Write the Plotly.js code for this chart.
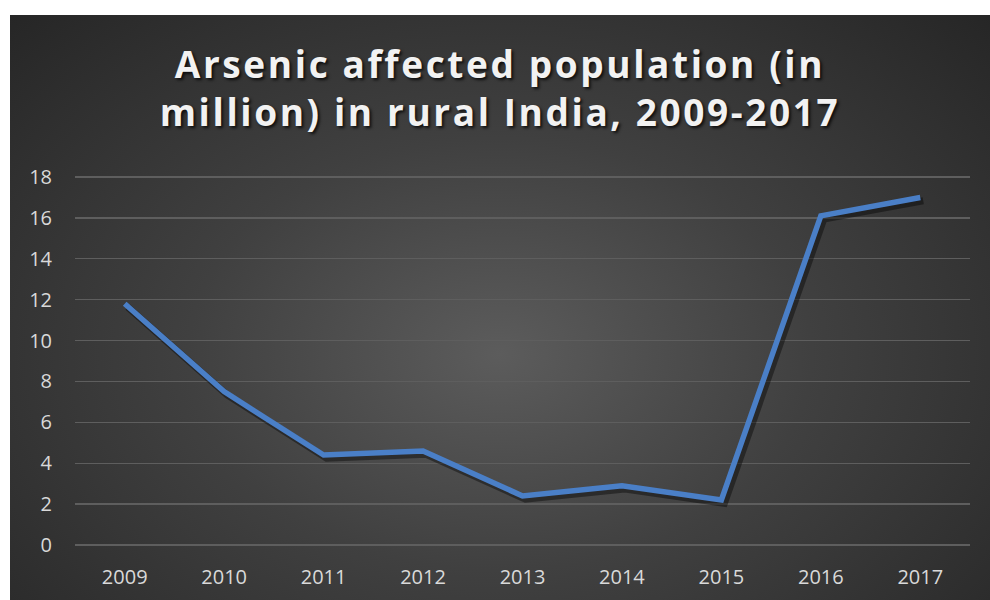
<!DOCTYPE html>
<html>
<head>
<meta charset="utf-8">
<script src="https://cdn.plot.ly/plotly-3.0.1.min.js"></script>
<style>
  html, body { margin: 0; padding: 0; background: #ffffff; width: 990px; height: 600px; overflow: hidden; }
  #chart {
    position: absolute; left: 10px; top: 15px; width: 980px; height: 585px;
    background: radial-gradient(ellipse farthest-corner at 50% 58%, #5c5c5c 0%, #404040 45%, #262626 100%);
  }
  #chart .gtitle { letter-spacing: 2.6px; }
</style>
</head>
<body>
<div id="chart"></div>
<script>
const years = ['2009', '2010', '2011', '2012', '2013', '2014', '2015', '2016', '2017'];
const affected = [11.8, 7.5, 4.4, 4.6, 2.4, 2.9, 2.2, 16.1, 17.0];
const yTicks = [0, 2, 4, 6, 8, 10, 12, 14, 16, 18];
const titleText = 'Arsenic affected population (in<br>million) in rural India, 2009-2017';

// soft drop shadow under the line (same data, axes offset by a few pixels)
const shadow = {
  x: years, y: affected, type: 'scatter', mode: 'lines',
  xaxis: 'x', yaxis: 'y',
  line: { color: 'rgba(0,0,0,0.4)', width: 7 },
  hoverinfo: 'skip', showlegend: false
};
const main = {
  x: years, y: affected, type: 'scatter', mode: 'lines',
  xaxis: 'x2', yaxis: 'y2',
  name: 'Arsenic affected population',
  line: { color: '#4A7FC7', width: 5.5 },
  showlegend: false
};

const layout = {
  width: 980, height: 585,
  paper_bgcolor: 'rgba(0,0,0,0)',
  plot_bgcolor: 'rgba(0,0,0,0)',
  margin: { l: 65, r: 20, t: 161, b: 53.5 },
  title: {
    text: titleText,
    font: { family: 'Open Sans', size: 37, weight: 700, color: '#f2f2f2', shadow: '2px 2px 3px rgba(0,0,0,0.75)' },
    x: 0.5, xanchor: 'center', xref: 'container',
    y: 0.892, yanchor: 'top', yref: 'container'
  },
  font: { family: 'Open Sans', color: '#d9d9d9' },
  xaxis: {
    type: 'category', range: [-0.53, 8.47],
    visible: false, fixedrange: true
  },
  yaxis: {
    range: [0.11, 18.21],
    visible: false, fixedrange: true
  },
  xaxis2: {
    type: 'category', range: [-0.5, 8.5], overlaying: 'x', side: 'bottom',
    showgrid: false, zeroline: false, showline: false, ticks: '',
    tickfont: { size: 20, color: '#d9d9d9' }, ticklabelstandoff: 17, fixedrange: true
  },
  yaxis2: {
    range: [-0.05, 18.05], overlaying: 'y', side: 'left',
    tickvals: yTicks, ticktext: yTicks.map(String),
    showgrid: true, gridcolor: '#5e5e5e', gridwidth: 1.3,
    zeroline: false, showline: false, ticks: '',
    tickfont: { size: 20, color: '#d9d9d9' }, ticklabelstandoff: 22, fixedrange: true
  }
};

Plotly.newPlot('chart', [shadow, main], layout, { staticPlot: true, displayModeBar: false });
</script>
</body>
</html>
